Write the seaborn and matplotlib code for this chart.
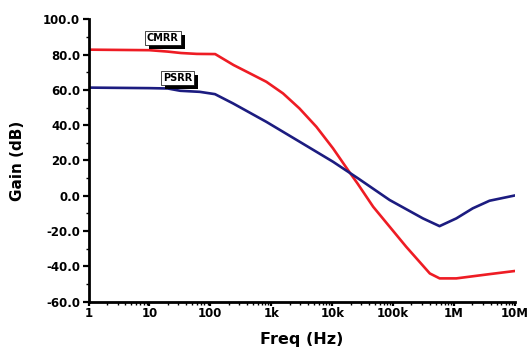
import matplotlib
matplotlib.use("Agg")
import matplotlib.pyplot as plt
import matplotlib.patheffects as pe
from matplotlib.ticker import LogLocator, FixedLocator, MultipleLocator, NullFormatter
import seaborn as sns
import pandas as pd

# ---- data ----
cmrr_freq = [1, 10, 20, 33, 60, 120, 240, 450, 830, 1560, 2900, 5500, 10300,
             19000, 26000, 47000, 164000, 400000, 580000, 1090000, 3800000, 10000000]
cmrr_db = [82.8, 82.5, 81.7, 80.9, 80.4, 80.3, 74.1, 69.3, 64.6, 58.0, 49.5, 39.1, 26.9,
           13.6, 7.0, -6.2, -28.9, -44.0, -46.8, -46.8, -44.4, -42.6]

psrr_freq = [1, 10, 20, 32, 67, 119, 237, 830, 2930, 10300, 26500, 87700, 308000,
             578000, 1090000, 2030000, 3820000, 10000000]
psrr_db = [61.3, 61.0, 60.8, 59.5, 58.9, 57.6, 52.3, 41.9, 30.6, 19.3, 9.9, -2.4, -12.8,
           -17.2, -12.8, -7.1, -2.8, 0.2]

x_ticks = [1, 10, 100, 1e3, 1e4, 1e5, 1e6, 1e7]
x_tick_labels = ["1", "10", "100", "1k", "10k", "100k", "1M", "10M"]
y_ticks = [-60, -40, -20, 0, 20, 40, 60, 80, 100]
y_tick_labels = ["-60.0", "-40.0", "-20.0", "0.0", "20.0", "40.0", "60.0", "80.0", "100.0"]

series_names = ["CMRR", "PSRR"]
series_colors = ["#ee1c24", "#1c1c80"]

df = pd.concat([
    pd.DataFrame({"Freq": cmrr_freq, "Gain": cmrr_db, "Series": "CMRR"}),
    pd.DataFrame({"Freq": psrr_freq, "Gain": psrr_db, "Series": "PSRR"}),
])

sns.set_style("ticks")
plt.rcParams["font.family"] = ["DejaVu Sans"]
plt.rcParams["text.color"] = "black"
plt.rcParams["axes.labelcolor"] = "black"

fig = plt.figure(figsize=(5.29, 3.51), dpi=100)
ax = fig.add_axes([0.1673, 0.1405, 0.9735 - 0.1673, 0.945 - 0.1405])

sns.lineplot(data=df, x="Freq", y="Gain", hue="Series", hue_order=series_names,
             palette=series_colors, linewidth=1.9, legend=False, ax=ax,
             estimator=None, sort=False)

ax.set_xscale("log")
ax.set_xlim(1, 1e7)
ax.set_ylim(-60, 100)

ax.xaxis.set_major_locator(FixedLocator(x_ticks))
ax.set_xticklabels(x_tick_labels)
ax.xaxis.set_minor_locator(LogLocator(base=10, subs=range(2, 10), numticks=100))
ax.xaxis.set_minor_formatter(NullFormatter())
ax.set_yticks(y_ticks)
ax.set_yticklabels(y_tick_labels)
ax.yaxis.set_minor_locator(MultipleLocator(10))

for lab in ax.get_xticklabels() + ax.get_yticklabels():
    lab.set_fontweight("bold")
    lab.set_fontsize(8.5)
    lab.set_color("black")

ax.tick_params(axis="x", which="major", direction="out", length=3, width=1.6, pad=0.5, colors="black")
ax.tick_params(axis="y", which="major", direction="out", length=4, width=1.6, pad=2, colors="black")
ax.tick_params(axis="both", which="minor", direction="out", length=2.5, width=1.0, colors="black")

sns.despine(ax=ax)
for s in ["left", "bottom"]:
    ax.spines[s].set_linewidth(2.0)
    ax.spines[s].set_color("black")

ax.set_xlabel("Freq (Hz)", fontsize=11.5, fontweight="bold", labelpad=9)
ax.set_ylabel("Gain (dB)", fontsize=11, fontweight="bold", labelpad=13)

def tag(text, x, y):
    t = ax.text(x, y, text, fontsize=7, fontweight="bold", ha="center", va="center",
                bbox=dict(boxstyle="square,pad=0.2", fc="white", ec="black", lw=0.5))
    t.get_bbox_patch().set_path_effects([
        pe.SimplePatchShadow(offset=(3, -3), shadow_rgbFace="black", alpha=1.0),
        pe.Normal()])
    return t

tag("CMRR", 16.5, 89.5)
tag("PSRR", 29, 66.6)

fig.savefig("out.png", dpi=100)
